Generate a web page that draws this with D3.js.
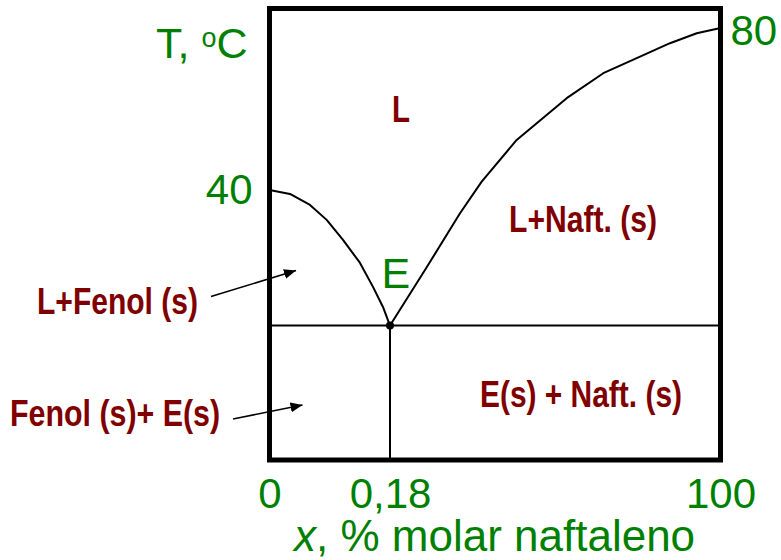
<!DOCTYPE html>
<html>
<head>
<meta charset="utf-8">
<script src="https://cdn.jsdelivr.net/npm/d3@7"></script>
<style>
  html, body { margin: 0; padding: 0; background: #fff; }
  svg { display: block; }
</style>
</head>
<body>
<svg id="chart" width="781" height="560"></svg>
<script>
// Phase diagram phenol – naphthalene (simple eutectic)

// composition axis: mole fraction of naphthalene
const xTickValues = [0, 0.18, 1];
const xTickLabels = ["0", "0,18", "100"];
// temperature axis, °C
const yLeftTicks = [40];
const yRightTicks = [80];

// eutectic point
const eutecticX = 0.18;
const eutecticT = 6.5;

// liquidus of phenol (left branch)
const phenolX = [0, 0.0306, 0.0605, 0.0854, 0.1098, 0.1352, 0.1546, 0.1695, 0.18];
const phenolT = [40, 39.0, 36.3, 32.6, 27.65, 21.97, 16.05, 11.1, 6.5];

// liquidus of naphthalene (right branch)
const naphX = [0.18, 0.2668, 0.3537, 0.4075, 0.4943, 0.6184, 0.7092, 0.7921, 0.8747, 0.941, 1];
const naphT = [6.5, 20.2, 34.25, 42.05, 52.35, 62.65, 68.82, 72.53, 76.23, 78.7, 80];

const GREEN = "#008000";
const MAROON = "#800000";

const svg = d3.select("#chart");

// schematic composition scale (eutectic composition stretched)
const x = d3.scaleLinear().domain([0, 0.18, 1]).range([269.5, 390, 720.5]);
const y = d3.scaleLinear().domain([-26.7, 84.8]).range([460, 8.5]);

const [x0, x1] = [x(0), x(1)];
const [yTop, yBot] = [y(84.8), y(-26.7)];

const line = d3.line().x(d => x(d[0])).y(d => y(d[1]));

// eutectic horizontal line
svg.append("line")
  .attr("x1", x0).attr("x2", x1)
  .attr("y1", y(eutecticT)).attr("y2", y(eutecticT))
  .attr("stroke", "#000").attr("stroke-width", 2);

// vertical line under the eutectic point
svg.append("line")
  .attr("x1", x(eutecticX)).attr("x2", x(eutecticX))
  .attr("y1", y(eutecticT)).attr("y2", yBot)
  .attr("stroke", "#000").attr("stroke-width", 2);

// liquidus curves
svg.append("path")
  .datum(d3.zip(phenolX, phenolT))
  .attr("d", line)
  .attr("fill", "none").attr("stroke", "#000").attr("stroke-width", 2)
  .attr("stroke-linejoin", "round");

svg.append("path")
  .datum(d3.zip(naphX, naphT))
  .attr("d", line)
  .attr("fill", "none").attr("stroke", "#000").attr("stroke-width", 2)
  .attr("stroke-linejoin", "round");

// eutectic point marker
svg.append("circle")
  .attr("cx", x(eutecticX)).attr("cy", y(eutecticT)).attr("r", 4)
  .attr("fill", "#000");

// frame
svg.append("rect")
  .attr("x", x0).attr("y", yTop)
  .attr("width", x1 - x0).attr("height", yBot - yTop)
  .attr("fill", "none").attr("stroke", "#000").attr("stroke-width", 5);

// axes (labels only, no tick marks)
function styleAxis(g) {
  g.select(".domain").remove();
  g.selectAll("text")
    .attr("fill", GREEN)
    .attr("font-family", "'Liberation Sans', Arial, sans-serif")
    .attr("font-size", 42);
}

const xAxis = svg.append("g")
  .attr("transform", `translate(0,${yBot})`)
  .call(d3.axisBottom(x).tickValues(xTickValues)
    .tickFormat((d, i) => xTickLabels[i]).tickSize(0))
  .call(styleAxis);
xAxis.selectAll("text").attr("y", 48).attr("dy", null);

svg.append("g")
  .attr("transform", `translate(${x0},0)`)
  .call(d3.axisLeft(y).tickValues(yLeftTicks).tickSize(0).tickPadding(17))
  .call(styleAxis);

const rAxis = svg.append("g")
  .attr("transform", `translate(${x1},0)`)
  .call(d3.axisRight(y).tickValues(yRightTicks).tickSize(0).tickPadding(10))
  .call(styleAxis);
rAxis.selectAll("text").attr("dy", "0.4em");

// axis titles
const yTitle = svg.append("text")
  .attr("x", 156).attr("y", 58)
  .attr("fill", GREEN)
  .attr("font-family", "'Liberation Sans', Arial, sans-serif")
  .attr("font-size", 43);
yTitle.append("tspan").text("T, ");
yTitle.append("tspan").attr("font-size", 27).attr("dy", -11).text("o");
yTitle.append("tspan").attr("dy", 11).text("C");

const xTitle = svg.append("text")
  .attr("x", 294).attr("y", 551)
  .attr("fill", GREEN)
  .attr("font-family", "'Liberation Sans', Arial, sans-serif")
  .attr("font-size", 44);
xTitle.append("tspan").attr("font-style", "italic").text("x");
xTitle.append("tspan").text(", % molar naftaleno");

// eutectic label
svg.append("text")
  .attr("x", 381.5).attr("y", 288)
  .attr("fill", GREEN)
  .attr("font-family", "'Liberation Sans', Arial, sans-serif")
  .attr("font-size", 43)
  .text("E");

// phase region labels
const regionLabels = [
  { text: "L", x: 392, y: 122, w: 18 },
  { text: "L+Naft. (s)", x: 509, y: 232, w: 148 },
  { text: "E(s) + Naft. (s)", x: 480, y: 407, w: 202 },
  { text: "L+Fenol (s)", x: 37, y: 314, w: 161 },
  { text: "Fenol (s)+ E(s)", x: 10, y: 426, w: 210 }
];
svg.selectAll("text.region")
  .data(regionLabels)
  .join("text")
  .attr("class", "region")
  .attr("x", d => d.x).attr("y", d => d.y)
  .attr("textLength", d => d.w)
  .attr("lengthAdjust", "spacingAndGlyphs")
  .attr("fill", MAROON)
  .attr("font-family", "'Liberation Sans Narrow', 'Liberation Sans', Arial, sans-serif")
  .attr("font-weight", "bold")
  .attr("font-size", 36)
  .text(d => d.text);

// pointer arrows
svg.append("defs").append("marker")
  .attr("id", "arrow")
  .attr("viewBox", "0 0 12 10")
  .attr("refX", 12).attr("refY", 5)
  .attr("markerWidth", 12).attr("markerHeight", 10)
  .attr("markerUnits", "userSpaceOnUse")
  .attr("orient", "auto")
  .append("path")
  .attr("d", "M0,0 L12,5 L0,10 Z")
  .attr("fill", "#000");

const arrows = [
  { x1: 211, y1: 296.5, x2: 296, y2: 270.5 },
  { x1: 233, y1: 419, x2: 302.5, y2: 405 }
];
svg.selectAll("line.arrow")
  .data(arrows)
  .join("line")
  .attr("class", "arrow")
  .attr("x1", d => d.x1).attr("y1", d => d.y1)
  .attr("x2", d => d.x2).attr("y2", d => d.y2)
  .attr("stroke", "#000").attr("stroke-width", 1.5)
  .attr("marker-end", "url(#arrow)");
</script>
</body>
</html>
